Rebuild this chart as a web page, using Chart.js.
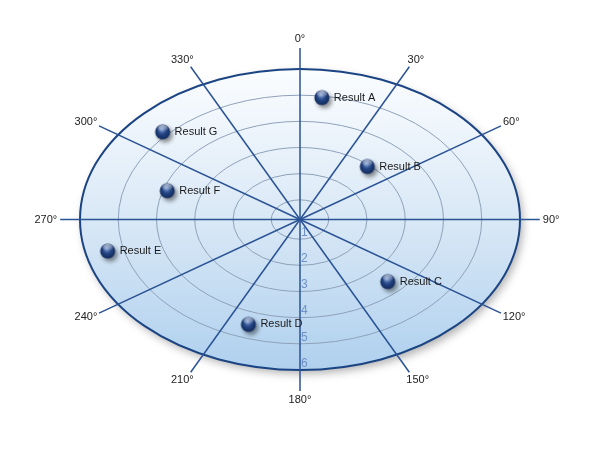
<!DOCTYPE html>
<html>
<head>
<meta charset="utf-8">
<script src="https://cdn.jsdelivr.net/npm/chart.js@4/dist/chart.umd.min.js"></script>
<style>
  body { margin: 0; background: #fff; }
  canvas { display: block; }
</style>
</head>
<body>
<canvas id="grafico" width="600" height="450"></canvas>
<script>
// datos del grafico polar
const etiquetas = ["Result A", "Result B", "Result C", "Result D", "Result E", "Result F", "Result G"];
const angulos = [7, 41, 136, 198.6, 256.5, 287.6, 313];
const radios = [4.94, 2.93, 3.55, 4.48, 5.42, 3.89, 5.16];
const ticksRadio = [1, 2, 3, 4, 5, 6];
const ticksAngulo = [0, 30, 60, 90, 120, 150, 180, 210, 240, 270, 300, 330];
const radioMin = 0.25;
const radioMax = 6;

const rad = (g) => (g * Math.PI) / 180;
const puntos = radios.map((r, i) => ({
  x: (r - radioMin) * Math.sin(rad(angulos[i])),
  y: (r - radioMin) * Math.cos(rad(angulos[i])),
}));

const fuente = "11px 'Liberation Sans', Arial, sans-serif";

// bolita con sombra para los puntos
function crearBola() {
  const c = document.createElement("canvas");
  c.width = 32;
  c.height = 32;
  const g = c.getContext("2d");
  const cx = 16, cy = 16, r = 7.5;
  g.save();
  g.shadowColor = "rgba(0,0,0,0.45)";
  g.shadowBlur = 4;
  g.shadowOffsetX = 2.5;
  g.shadowOffsetY = 3;
  const grad = g.createRadialGradient(cx - 1, cy - 3, 0.5, cx, cy, r + 1);
  grad.addColorStop(0, "#7d9ad0");
  grad.addColorStop(0.45, "#244685");
  grad.addColorStop(1, "#0e2352");
  g.fillStyle = grad;
  g.beginPath();
  g.arc(cx, cy, r, 0, Math.PI * 2);
  g.fill();
  g.restore();
  // brillo
  const b = g.createLinearGradient(0, cy - r, 0, cy);
  b.addColorStop(0, "rgba(255,255,255,0.7)");
  b.addColorStop(1, "rgba(255,255,255,0)");
  g.fillStyle = b;
  g.beginPath();
  g.ellipse(cx, cy - 3.5, 5, 3.5, 0, 0, Math.PI * 2);
  g.fill();
  return c;
}

const fondoPolar = {
  id: "fondoPolar",
  beforeDatasetsDraw(chart) {
    const { ctx } = chart;
    const sx = chart.scales.x, sy = chart.scales.y;
    const cx = sx.getPixelForValue(0), cy = sy.getPixelForValue(0);
    const rx = (v) => sx.getPixelForValue(v - radioMin) - cx;
    const ry = (v) => cy - sy.getPixelForValue(v - radioMin);
    const RX = rx(radioMax), RY = ry(radioMax);

    // elipse de fondo
    ctx.save();
    ctx.shadowColor = "rgba(0,0,0,0.3)";
    ctx.shadowBlur = 8;
    ctx.shadowOffsetX = 3;
    ctx.shadowOffsetY = 4;
    const grad = ctx.createLinearGradient(0, cy - RY, 0, cy + RY);
    grad.addColorStop(0, "#fbfdff");
    grad.addColorStop(0.5, "#d9e8f6");
    grad.addColorStop(1, "#afd0ee");
    ctx.fillStyle = grad;
    ctx.beginPath();
    ctx.ellipse(cx, cy, RX, RY, 0, 0, Math.PI * 2);
    ctx.fill();
    ctx.restore();

    // anillos
    ctx.save();
    ctx.strokeStyle = "#8fa2ba";
    ctx.lineWidth = 1;
    ticksRadio.slice(0, -1).forEach((v) => {
      ctx.beginPath();
      ctx.ellipse(cx, cy, rx(v), ry(v), 0, 0, Math.PI * 2);
      ctx.stroke();
    });
    ctx.strokeStyle = "#1b4483";
    ctx.lineWidth = 2;
    ctx.beginPath();
    ctx.ellipse(cx, cy, RX, RY, 0, 0, Math.PI * 2);
    ctx.stroke();
    ctx.restore();

    // radios y etiquetas de angulo
    const ea = RX * 1.09, eb = RY * 1.14, aspecto = 1.24;
    ctx.save();
    ctx.strokeStyle = "#2a5395";
    ctx.lineWidth = 1.5;
    ctx.font = fuente;
    ctx.textAlign = "center";
    ctx.textBaseline = "middle";
    ticksAngulo.forEach((a) => {
      const phi = Math.atan2(Math.sin(rad(a)) * aspecto, Math.cos(rad(a)));
      const s = Math.sin(phi), c = Math.cos(phi);
      const len = 1 / Math.sqrt((s / ea) ** 2 + (c / eb) ** 2);
      const x2 = cx + s * len, y2 = cy - c * len;
      ctx.beginPath();
      ctx.moveTo(cx, cy);
      ctx.lineTo(x2, y2);
      ctx.stroke();
      const txt = a + "°";
      const w = ctx.measureText(txt).width;
      ctx.fillStyle = "#222";
      ctx.fillText(txt, x2 + s * (w / 2 + 3), y2 - c * 9);
    });
    ctx.restore();

    // etiquetas del eje radial
    ctx.save();
    ctx.font = "12px 'Liberation Sans', Arial, sans-serif";
    ctx.fillStyle = "#6d91c6";
    ctx.textAlign = "left";
    ctx.textBaseline = "middle";
    ticksRadio.forEach((v) => {
      ctx.fillText(String(v), cx + 1, cy + ry(v) - 6.5);
    });
    ctx.restore();
  },
  afterDatasetsDraw(chart) {
    const { ctx } = chart;
    const meta = chart.getDatasetMeta(0);
    ctx.save();
    ctx.font = fuente;
    ctx.fillStyle = "#1a1a1a";
    ctx.textAlign = "left";
    ctx.textBaseline = "middle";
    meta.data.forEach((el, i) => {
      ctx.fillText(etiquetas[i], el.x + 12, el.y);
    });
    ctx.restore();
  },
};

const ctx = document.getElementById("grafico").getContext("2d");
new Chart(ctx, {
  type: "scatter",
  data: {
    labels: etiquetas,
    datasets: [
      {
        label: "Resultados",
        data: puntos,
        pointStyle: crearBola(),
        pointRadius: 8,
        clip: false,
      },
    ],
  },
  options: {
    responsive: false,
    animation: false,
    layout: { padding: { left: 80, right: 80, top: 69, bottom: 80 } },
    scales: {
      x: { type: "linear", min: radioMin - radioMax, max: radioMax - radioMin, display: false },
      y: { type: "linear", min: radioMin - radioMax, max: radioMax - radioMin, display: false },
    },
    plugins: {
      legend: { display: false },
      tooltip: { enabled: false },
    },
  },
  plugins: [fondoPolar],
});
</script>
</body>
</html>
